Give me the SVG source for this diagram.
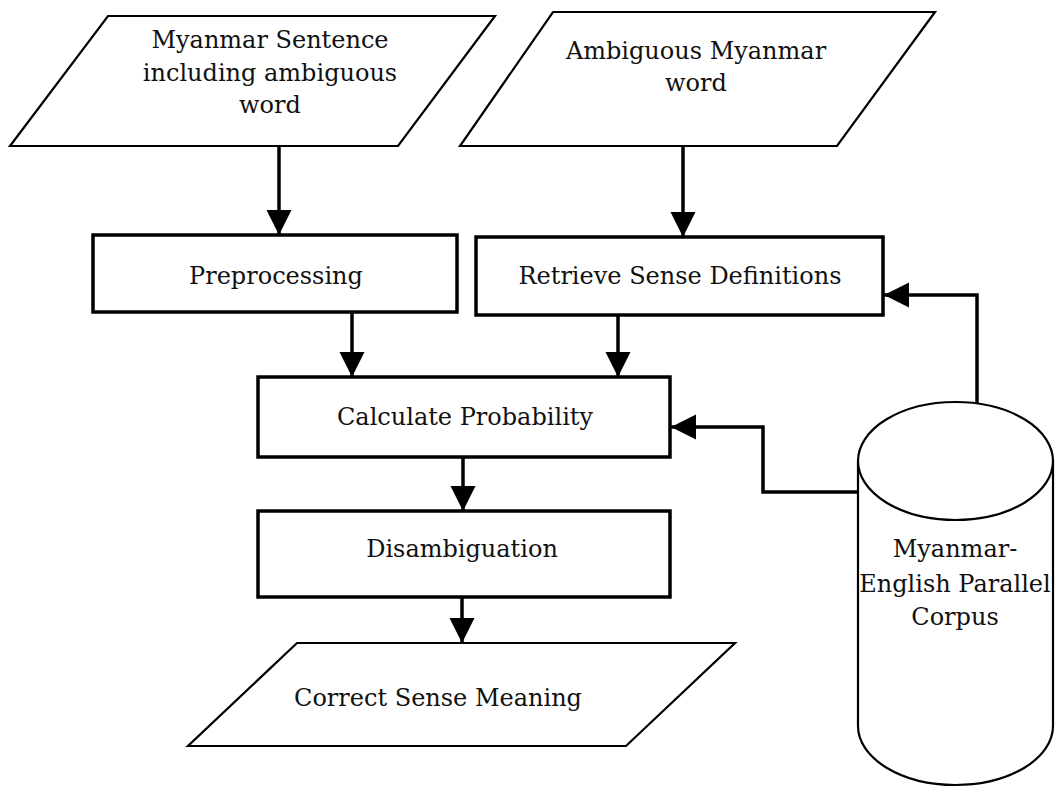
<svg xmlns="http://www.w3.org/2000/svg" width="1055" height="787" viewBox="0 0 1055 787">
<style>
.io{fill:#fff;stroke:#000;stroke-width:2.2}
.box{fill:#fff;stroke:#000;stroke-width:3.5}
.cyl{fill:#fff;stroke:#000;stroke-width:2.2}
.t{font-family:"DejaVu Serif","Liberation Serif",serif;font-size:24px;fill:#111;text-anchor:middle}
.c{fill:none;stroke:#000;stroke-width:3.5}
</style>
<defs>
<marker id="ah" markerUnits="userSpaceOnUse" markerWidth="26" markerHeight="26" refX="25" refY="12.5" orient="auto">
<path d="M0,0 L25,12.5 L0,25 z" fill="#000"/>
</marker>
</defs>
<rect width="1055" height="787" fill="#fff"/>
<g id="sentence">
<polygon class="io" points="108,16 495,16 398,146 10,146"/>
<text class="t" x="270" y="48">Myanmar Sentence</text>
<text class="t" x="270" y="81">including ambiguous</text>
<text class="t" x="270" y="113">word</text>
</g>
<g id="ambiguous">
<polygon class="io" points="553,12 935,12 837,146 460,146"/>
<text class="t" x="696" y="59">Ambiguous Myanmar</text>
<text class="t" x="696" y="91">word</text>
</g>
<g id="preprocessing">
<rect class="box" x="93" y="235" width="364" height="77"/>
<text class="t" x="276" y="284">Preprocessing</text>
</g>
<g id="retrieve">
<rect class="box" x="476" y="237" width="407" height="78"/>
<text class="t" x="680" y="284">Retrieve Sense Definitions</text>
</g>
<g id="calculate">
<rect class="box" x="258" y="377" width="412" height="80"/>
<text class="t" x="465" y="425">Calculate Probability</text>
</g>
<g id="disambiguation">
<rect class="box" x="258" y="511" width="412" height="86"/>
<text class="t" x="462" y="557">Disambiguation</text>
</g>
<g id="correct">
<polygon class="io" points="297,643 735,643 626,746 188,746"/>
<text class="t" x="438" y="706">Correct Sense Meaning</text>
</g>
<g id="corpus">
<path class="cyl" d="M858,461 L858,726 A97.5,59 0 0 0 1053,726 L1053,461"/>
<ellipse class="cyl" cx="955.5" cy="461" rx="97.5" ry="59"/>
<text class="t" x="955" y="557">Myanmar-</text>
<text class="t" x="955" y="592">English Parallel</text>
<text class="t" x="955" y="625">Corpus</text>
</g>
<g id="connectors">
<path class="c" d="M279,146 L279,235" marker-end="url(#ah)"/>
<path class="c" d="M683,146 L683,237" marker-end="url(#ah)"/>
<path class="c" d="M352,312 L352,377" marker-end="url(#ah)"/>
<path class="c" d="M618,315 L618,377" marker-end="url(#ah)"/>
<path class="c" d="M463,457 L463,511" marker-end="url(#ah)"/>
<path class="c" d="M462,597 L462,643" marker-end="url(#ah)"/>
<path class="c" d="M977,404 L977,295 L884,295" marker-end="url(#ah)"/>
<path class="c" d="M858,492 L763,492 L763,427 L671,427" marker-end="url(#ah)"/>
</g>
</svg>
